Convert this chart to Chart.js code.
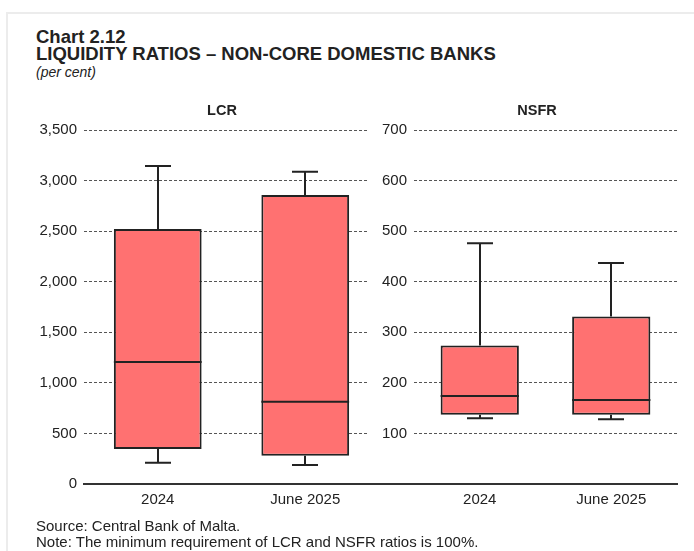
<!DOCTYPE html>
<html>
<head>
<meta charset="utf-8">
<script src="https://cdn.jsdelivr.net/npm/chart.js@4.4.1/dist/chart.umd.min.js"></script>
<style>
  html, body { margin: 0; padding: 0; background: #fff; }
  body { width: 694px; height: 551px; position: relative; overflow: hidden; font-family: "Liberation Sans", Arial, sans-serif; color: #222; }
  .frame { position: absolute; left: 6px; top: 12px; width: 700px; height: 600px; border-top: 2px solid #ececec; border-left: 2px solid #ececec; }
  .t { position: absolute; white-space: nowrap; z-index: 5; }
  .h1 { left: 36px; top: 27.5px; font-size: 18.5px; line-height: 18.5px; font-weight: bold; }
  .h2 { left: 36px; top: 45px; font-size: 18.5px; line-height: 18.5px; font-weight: bold; }
  .unit { left: 36px; top: 63.5px; font-size: 14px; line-height: 16px; font-style: italic; }
  .ptitle { top: 102px; font-size: 14.5px; line-height: 16px; font-weight: bold; transform: translateX(-50%); }
  .foot { left: 36px; font-size: 15px; line-height: 16px; }
  canvas { position: absolute; }
</style>
</head>
<body>
<div class="frame"></div>
<canvas id="lcr" width="380" height="420" style="left:0;top:100px;width:380px;height:420px"></canvas>
<canvas id="nsfr" width="327" height="420" style="left:367px;top:100px;width:327px;height:420px"></canvas>
<div class="t h1">Chart 2.12</div>
<div class="t h2">LIQUIDITY RATIOS – NON-CORE DOMESTIC BANKS</div>
<div class="t unit">(per cent)</div>
<div class="t ptitle" style="left:222px">LCR</div>
<div class="t ptitle" style="left:537px">NSFR</div>
<div class="t foot" style="top:517.5px">Source: Central Bank of Malta.</div>
<div class="t foot" style="top:533.5px">Note: The minimum requirement of LCR and NSFR ratios is 100%.</div>
<script>
// ---- data ----
const categories = ['2024', 'June 2025'];
const lcrMin    = [211, 188];
const lcrQ1     = [346, 280];
const lcrMedian = [1206, 814];
const lcrQ3     = [2521, 2857];
const lcrMax    = [3144, 3088];
const nsfrMin    = [130, 128];
const nsfrQ1     = [137, 137];
const nsfrMedian = [174, 166];
const nsfrQ3     = [274, 331];
const nsfrMax    = [476, 437];
const lcrTicks  = { min: 0, max: 3500, step: 500 };
const nsfrTicks = { min: 0, max: 700, step: 100 };

const FONT = '"Liberation Sans", Arial, sans-serif';
const INK = '#222222';
const BOX = '#ff7171';
const GRID = '#555555';

function whiskerPlugin(minA, q1A, medA, q3A, maxA) {
  return {
    id: 'whiskers',
    beforeDatasetsDraw(chart) {
      const { ctx } = chart;
      const xs = chart.scales.x, ys = chart.scales.y;
      ctx.save();
      ctx.strokeStyle = INK;
      ctx.lineWidth = 2;
      for (let i = 0; i < categories.length; i++) {
        const x = Math.round(xs.getPixelForValue(i));
        const yMin = ys.getPixelForValue(minA[i]);
        const yQ1 = ys.getPixelForValue(q1A[i]);
        const yQ3 = ys.getPixelForValue(q3A[i]);
        const yMax = ys.getPixelForValue(maxA[i]);
        ctx.beginPath();
        ctx.moveTo(x, yQ3); ctx.lineTo(x, yMax);
        ctx.moveTo(x - 13, yMax); ctx.lineTo(x + 13, yMax);
        ctx.moveTo(x, yQ1); ctx.lineTo(x, yMin);
        ctx.moveTo(x - 13, yMin); ctx.lineTo(x + 13, yMin);
        ctx.stroke();
      }
      ctx.restore();
    },
    afterDatasetsDraw(chart) {
      const { ctx } = chart;
      const ys = chart.scales.y;
      const meta = chart.getDatasetMeta(0);
      ctx.save();
      ctx.strokeStyle = INK;
      ctx.lineWidth = 2;
      for (let i = 0; i < categories.length; i++) {
        const bar = meta.data[i];
        const y = ys.getPixelForValue(medA[i]);
        ctx.beginPath();
        ctx.moveTo(bar.x - bar.width / 2, y);
        ctx.lineTo(bar.x + bar.width / 2, y);
        ctx.stroke();
      }
      ctx.restore();
    }
  };
}

const whiteBg = {
  id: 'whiteBg',
  beforeDraw(chart) {
    const { ctx } = chart;
    ctx.save();
    ctx.fillStyle = '#ffffff';
    ctx.fillRect(0, 0, chart.width, chart.height);
    ctx.restore();
  }
};

const baseline = {
  id: 'baseline',
  afterDraw(chart) {
    const { ctx } = chart;
    const y = chart.scales.y.getPixelForValue(0);
    ctx.save();
    ctx.strokeStyle = '#333333';
    ctx.lineWidth = 2;
    ctx.beginPath();
    ctx.moveTo(0, y);
    ctx.lineTo(chart.chartArea.right, y);
    ctx.stroke();
    ctx.restore();
  }
};

function makeChart(id, q1A, q3A, tk, yWidth, padRight, hideZeroLabel, extraPlugins) {
  return new Chart(document.getElementById(id), {
    type: 'bar',
    data: {
      labels: categories,
      datasets: [{
        data: categories.map((_, i) => [q1A[i], q3A[i]]),
        backgroundColor: BOX,
        borderColor: INK,
        borderWidth: 2,
        borderSkipped: false,
        barPercentage: 0.595,
        categoryPercentage: 1
      }]
    },
    options: {
      responsive: false,
      animation: false,
      devicePixelRatio: 1,
      layout: { padding: { top: 30, right: padRight, left: 0, bottom: 0 } },
      plugins: { legend: { display: false }, tooltip: { enabled: false }, title: { display: false } },
      scales: {
        x: {
          grid: { display: false, drawTicks: false },
          border: { display: true, color: '#333333', width: 2 },
          ticks: { color: INK, font: { family: FONT, size: 15 }, padding: 7, maxRotation: 0 },
          afterFit(scale) { scale.height = 36; }
        },
        y: {
          min: tk.min, max: tk.max,
          grid: {
            drawTicks: false,
            lineWidth: 1,
            color: (c) => (c.tick && c.tick.value === 0) ? 'rgba(0,0,0,0)' : GRID
          },
          border: { display: false, dash: [3, 2] },
          ticks: {
            stepSize: tk.step,
            padding: 7,
            color: INK,
            font: { family: FONT, size: 15 },
            callback: (v) => (hideZeroLabel && v === 0) ? '' : v.toLocaleString('en-US')
          },
          afterFit(scale) { scale.width = yWidth; }
        }
      }
    },
    plugins: extraPlugins
  });
}

makeChart('lcr', lcrQ1, lcrQ3, lcrTicks, 84, 1, false,
  [whiskerPlugin(lcrMin, lcrQ1, lcrMedian, lcrQ3, lcrMax)]);
makeChart('nsfr', nsfrQ1, nsfrQ3, nsfrTicks, 47, 17, true,
  [whiteBg, whiskerPlugin(nsfrMin, nsfrQ1, nsfrMedian, nsfrQ3, nsfrMax), baseline]);
</script>
</body>
</html>
